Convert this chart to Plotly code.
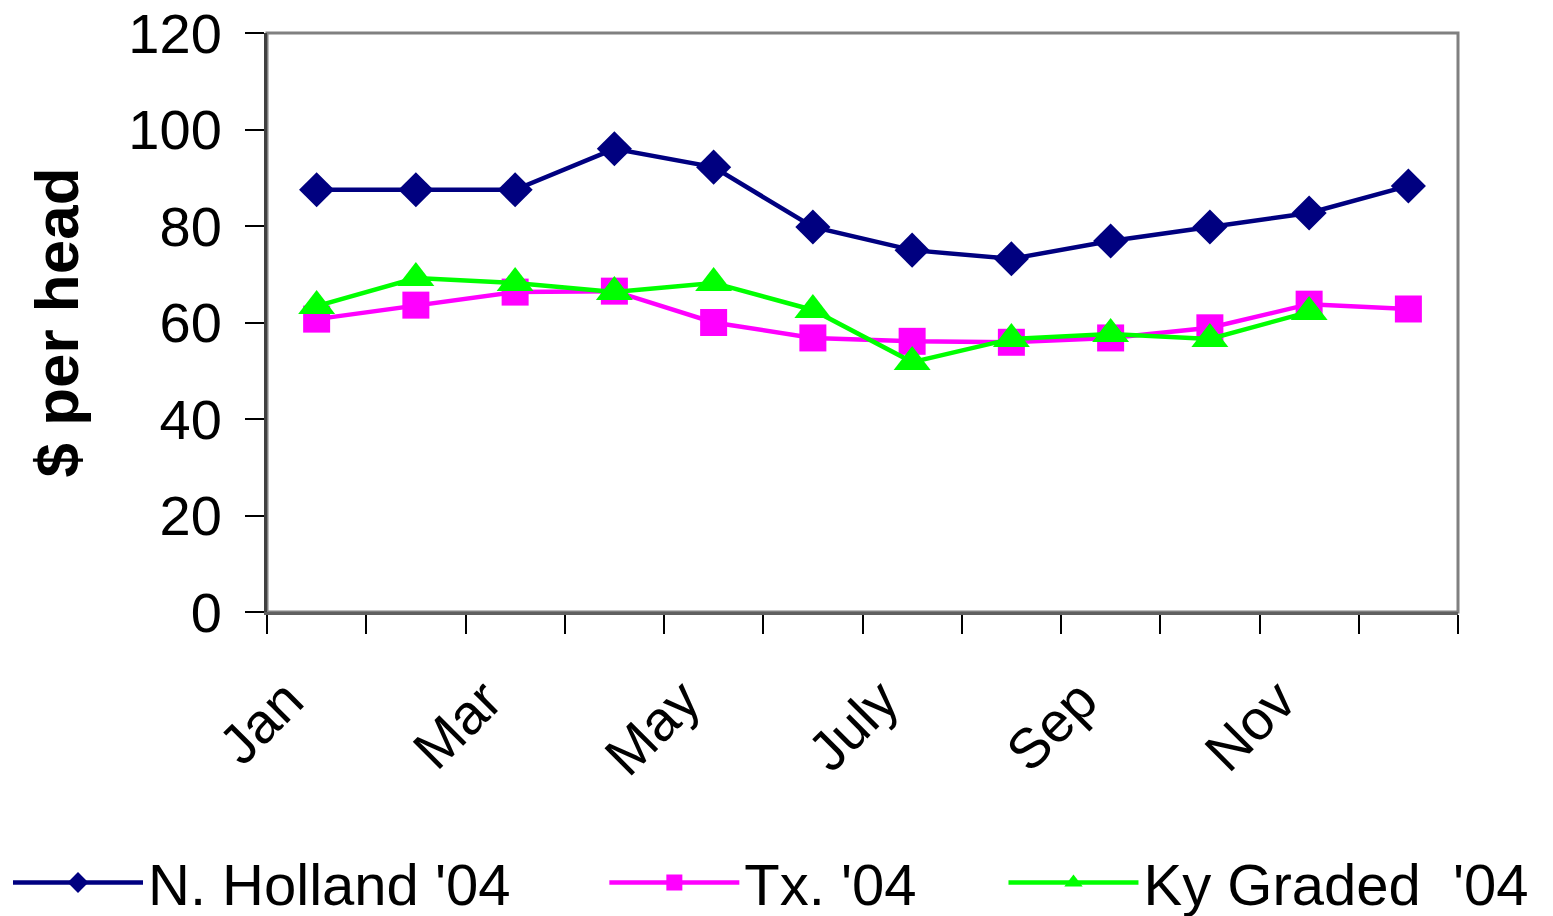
import plotly.graph_objects as go

months = ["Jan", "Feb", "Mar", "Apr", "May", "Jun", "July", "Aug", "Sep", "Oct", "Nov", "Dec"]
tick_labels = ["Jan", "", "Mar", "", "May", "", "July", "", "Sep", "", "Nov", ""]
n_holland = [87.5, 87.5, 87.5, 96.0, 92.2, 79.8, 75.0, 73.2, 76.9, 79.8, 82.7, 88.3]
tx = [60.7, 63.6, 66.3, 66.5, 60.0, 56.8, 56.1, 55.9, 56.8, 58.9, 63.8, 62.8]
ky = [63.4, 69.2, 68.2, 66.3, 68.2, 62.6, 51.8, 56.6, 57.6, 56.6, 62.2, None]

font = "Liberation Sans, Arial, sans-serif"

fig = go.Figure()
fig.add_trace(go.Scatter(x=months, y=n_holland, name="N. Holland '04", mode="lines+markers",
                         line=dict(color="#000080", width=4.5), legend="legend",
                         marker=dict(symbol="diamond", size=27, color="#000080")))
fig.add_trace(go.Scatter(x=months, y=tx, name="Tx. '04", mode="lines+markers",
                         line=dict(color="#FF00FF", width=4.5), legend="legend2",
                         marker=dict(symbol="square", size=27, color="#FF00FF")))
fig.add_trace(go.Scatter(x=months, y=ky, name="Ky Graded  '04", mode="lines+markers",
                         line=dict(color="#00FF00", width=4.5), legend="legend3",
                         marker=dict(symbol="triangle-up", size=32, color="#00FF00")))

def leg(x):
    return dict(orientation="h", x=x, xanchor="left", xref="container",
                y=0.045, yanchor="middle", yref="container",
                bgcolor="rgba(0,0,0,0)",
                font=dict(size=58, family=font), itemwidth=130)

fig.update_layout(
    width=1553, height=916,
    paper_bgcolor="white", plot_bgcolor="white",
    margin=dict(l=259, r=103, t=25, b=312, autoexpand=False),
    font=dict(family=font, color="black", size=56),
    showlegend=True,
    legend=leg(0.0), legend2=leg(0.384), legend3=leg(0.641),
    xaxis=dict(type="category", tickmode="array", tickvals=months, ticktext=tick_labels,
               tickson="boundaries", ticks="outside", ticklen=19, tickwidth=1.5, tickcolor="black",
               tickangle=-45, tickfont=dict(size=56, family=font),
               ticklabelstandoff=30, ticklabelshift=-30, ticklabeloverflow="allow",
               showline=True, linecolor="#606060", linewidth=3, mirror=False,
               showgrid=False, zeroline=False, range=[-0.5, 11.5], automargin=False),
    yaxis=dict(range=[0, 120], dtick=20, ticks="outside", ticklen=19, tickwidth=1.5,
               tickcolor="black", tickfont=dict(size=56, family=font),
               ticklabelstandoff=12, ticklabeloverflow="allow",
               showline=True, linecolor="#404040", linewidth=3,
               showgrid=False, zeroline=False, automargin=False,
               title=dict(text="<b>$ per head</b>", font=dict(size=62, family=font), standoff=30)),
    shapes=[dict(type="rect", xref="paper", yref="paper", x0=0, y0=0, x1=1, y1=1,
                 line=dict(color="#808080", width=3), layer="below")],
)

fig.write_html("out.html")
